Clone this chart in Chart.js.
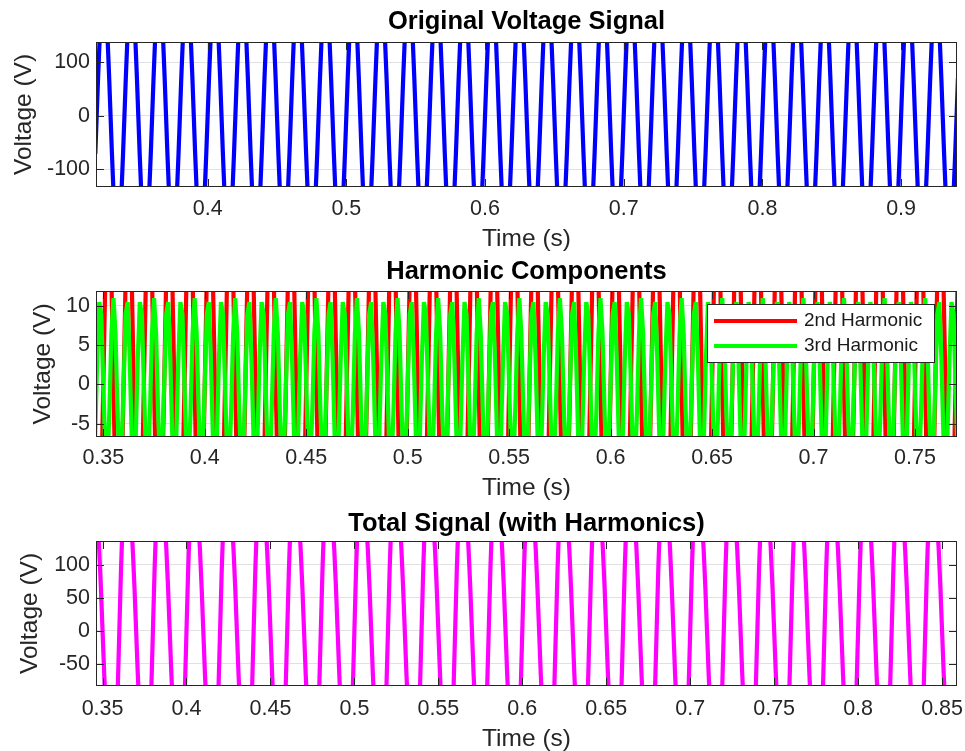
<!DOCTYPE html>
<html>
<head>
<meta charset="utf-8">
<title>Voltage Signal with Harmonics</title>
<script src="https://cdn.jsdelivr.net/npm/chart.js@4.4.0/dist/chart.umd.min.js"></script>
<style>
  html, body { margin: 0; padding: 0; background: #fff; }
  body { width: 965px; height: 751px; position: relative; overflow: hidden; }
  canvas { position: absolute; left: 0; }
</style>
</head>
<body>
<canvas id="chartOriginal" width="965" height="251" style="top:0px"></canvas>
<canvas id="chartHarmonics" width="965" height="250" style="top:250px"></canvas>
<canvas id="chartTotal" width="965" height="251" style="top:500px"></canvas>
<script>
// signals are sampled once per millisecond
var sampleStep = 0.001;

// Original voltage: one 50 Hz cycle of samples (V), starting at each rising zero crossing
var fundamentalCycle = [0, 71, 135, 186, 219, 230, 219, 186, 135, 71,
                        0, -71, -135, -186, -219, -230, -219, -186, -135, -71];
var fundamentalStarts = [0.30, 0.32, 0.34, 0.36, 0.38, 0.40, 0.42, 0.44, 0.46, 0.48,
                         0.50, 0.52, 0.54, 0.56, 0.58, 0.60, 0.62, 0.64, 0.66, 0.68,
                         0.70, 0.72, 0.74, 0.76, 0.78, 0.80, 0.82, 0.84, 0.86, 0.88,
                         0.90, 0.92, 0.94];

// 2nd harmonic (100 Hz): one cycle of samples
var harmonic2Cycle = [0, 13.5, 21.9, 21.9, 13.5, 0, -13.5, -21.9, -21.9, -13.5];
var harmonic2Starts = [0.34, 0.35, 0.36, 0.37, 0.38, 0.39, 0.40, 0.41, 0.42, 0.43,
                       0.44, 0.45, 0.46, 0.47, 0.48, 0.49, 0.50, 0.51, 0.52, 0.53,
                       0.54, 0.55, 0.56, 0.57, 0.58, 0.59, 0.60, 0.61, 0.62, 0.63,
                       0.64, 0.65, 0.66, 0.67, 0.68, 0.69, 0.70, 0.71, 0.72, 0.73,
                       0.74, 0.75, 0.76, 0.77];

// 3rd harmonic (150 Hz): three cycles = 20 samples before the pattern repeats
var harmonic3Cycle = [0, 8.9, 10.5, 3.4, -6.5, -11, -6.5, 3.4, 10.5, 8.9,
                      0, -8.9, -10.5, -3.4, 6.5, 11, 6.5, -3.4, -10.5, -8.9];
var harmonic3Starts = [0.34, 0.36, 0.38, 0.40, 0.42, 0.44, 0.46, 0.48, 0.50, 0.52,
                       0.54, 0.56, 0.58, 0.60, 0.62, 0.64, 0.66, 0.68, 0.70, 0.72,
                       0.74, 0.76];

// total signal (fundamental + harmonics): one 50 Hz cycle
var totalCycle = [0, 93.4, 167.4, 211.3, 226, 219, 199, 167.5, 123.6, 66.4,
                  0, -66.4, -123.6, -167.5, -199, -219, -226, -211.3, -167.4, -93.4];
var totalStarts = [0.34, 0.36, 0.38, 0.40, 0.42, 0.44, 0.46, 0.48, 0.50, 0.52,
                   0.54, 0.56, 0.58, 0.60, 0.62, 0.64, 0.66, 0.68, 0.70, 0.72,
                   0.74, 0.76, 0.78, 0.80, 0.82, 0.84, 0.86];

// axis ticks
var originalXTicks = [0.4, 0.5, 0.6, 0.7, 0.8, 0.9];
var originalYTicks = [-100, 0, 100];
var harmonicsXTicks = [0.35, 0.4, 0.45, 0.5, 0.55, 0.6, 0.65, 0.7, 0.75];
var harmonicsYTicks = [-5, 0, 5, 10];
var totalXTicks = [0.35, 0.4, 0.45, 0.5, 0.55, 0.6, 0.65, 0.7, 0.75, 0.8, 0.85];
var totalYTicks = [-50, 0, 50, 100];

function buildSeries(starts, cycle) {
    var pts = [];
    starts.forEach(function (s) {
        cycle.forEach(function (v, i) {
            pts.push({ x: s + i * sampleStep, y: v });
        });
    });
    return pts;
}

Chart.defaults.font.family = "'Liberation Sans', Arial, Helvetica, sans-serif";

// MATLAB-like box round the axes with ticks pointing inwards
var axesBox = {
    id: 'axesBox',
    afterDatasetsDraw: function (chart) {
        var ctx = chart.ctx, a = chart.chartArea;
        var xs = chart.scales.x, ys = chart.scales.y;
        ctx.save();
        ctx.strokeStyle = '#262626';
        ctx.lineWidth = 1;
        ctx.beginPath();
        xs.ticks.forEach(function (t) {
            var px = Math.round(xs.getPixelForValue(t.value)) + 0.5;
            ctx.moveTo(px, a.bottom); ctx.lineTo(px, a.bottom - 8);
            ctx.moveTo(px, a.top); ctx.lineTo(px, a.top + 8);
        });
        ys.ticks.forEach(function (t) {
            var py = Math.round(ys.getPixelForValue(t.value)) + 0.5;
            ctx.moveTo(a.left, py); ctx.lineTo(a.left + 8, py);
            ctx.moveTo(a.right, py); ctx.lineTo(a.right - 8, py);
        });
        ctx.stroke();
        ctx.strokeRect(a.left + 0.5, a.top + 0.5, a.right - a.left - 1, a.bottom - a.top - 1);
        ctx.restore();
    }
};

// boxed legend inside the plot, top right
var legendBox = {
    id: 'legendBox',
    afterDraw: function (chart) {
        var ctx = chart.ctx, a = chart.chartArea;
        var w = 228, h = 59;
        var x0 = a.right - 22 - w, y0 = a.top + 13;
        ctx.save();
        ctx.fillStyle = '#fff';
        ctx.fillRect(x0, y0, w, h);
        ctx.strokeStyle = '#262626';
        ctx.lineWidth = 1;
        ctx.strokeRect(x0 + 0.5, y0 + 0.5, w - 1, h - 1);
        ctx.font = "19px 'Liberation Sans', Arial, sans-serif";
        ctx.textBaseline = 'middle';
        chart.data.datasets.forEach(function (ds, i) {
            var ly = y0 + 17 + i * 25;
            ctx.strokeStyle = ds.borderColor;
            ctx.lineWidth = 4;
            ctx.beginPath();
            ctx.moveTo(x0 + 7, ly);
            ctx.lineTo(x0 + 90, ly);
            ctx.stroke();
            ctx.fillStyle = '#1a1a1a';
            ctx.fillText(ds.label, x0 + 97, ly);
        });
        ctx.restore();
    }
};

function makeChart(canvasId, p) {
    return new Chart(document.getElementById(canvasId), {
        type: 'line',
        data: { datasets: p.datasets },
        options: {
            responsive: false,
            animation: false,
            devicePixelRatio: 1,
            events: [],
            layout: { padding: { left: 0, right: 8, top: 0, bottom: 0 } },
            elements: {
                point: { radius: 0 },
                line: { tension: 0, borderWidth: 4.2 }
            },
            plugins: {
                legend: { display: false },
                tooltip: { enabled: false },
                title: {
                    display: true,
                    text: p.title,
                    fullSize: false,
                    color: '#000',
                    font: { size: 25.5, weight: 'bold' },
                    padding: { top: p.titleTop, bottom: p.titleBottom }
                }
            },
            scales: {
                x: {
                    type: 'linear',
                    min: p.xMin,
                    max: p.xMax,
                    afterBuildTicks: function (s) {
                        s.ticks = p.xTicks.map(function (v) { return { value: v }; });
                    },
                    afterFit: function (s) {
                        s.height = p.xAxisHeight;
                        s.paddingLeft = 0;
                        s.paddingRight = 0;
                    },
                    ticks: {
                        autoSkip: false,
                        maxRotation: 0,
                        padding: p.xTickPad,
                        color: '#262626',
                        font: { size: 21.5 },
                        callback: function (v) { return String(v); }
                    },
                    grid: { color: '#e1e1e1', drawTicks: false },
                    border: { display: false },
                    title: {
                        display: true,
                        text: 'Time (s)',
                        color: '#262626',
                        font: { size: 24.5, lineHeight: 1 },
                        padding: 0
                    }
                },
                y: {
                    min: p.yMin,
                    max: p.yMax,
                    afterBuildTicks: function (s) {
                        s.ticks = p.yTicks.map(function (v) { return { value: v }; });
                    },
                    afterFit: function (s) {
                        s.width = 96;
                        s.paddingTop = 0;
                        s.paddingBottom = 0;
                    },
                    ticks: {
                        padding: 6,
                        color: '#262626',
                        font: { size: 21.5 },
                        callback: function (v) { return String(v); }
                    },
                    grid: { color: '#e1e1e1', drawTicks: false },
                    border: { display: false },
                    title: {
                        display: true,
                        text: 'Voltage (V)',
                        color: '#262626',
                        font: { size: 24.5, lineHeight: 1 },
                        padding: { top: p.yTitlePad, bottom: 0 }
                    }
                }
            }
        },
        plugins: [axesBox].concat(p.extraPlugins || [])
    });
}

makeChart('chartOriginal', {
    title: 'Original Voltage Signal',
    titleTop: 6.7, titleBottom: 4.7,
    xAxisHeight: 64, xTickPad: 9, yTitlePad: 11.5,
    xMin: 0.3195, xMax: 0.9403, xTicks: originalXTicks,
    yMin: -133, yMax: 138, yTicks: originalYTicks,
    datasets: [{
        label: 'Original Voltage',
        data: buildSeries(fundamentalStarts, fundamentalCycle),
        borderColor: '#0000ff'
    }]
});

makeChart('chartHarmonics', {
    title: 'Harmonic Components',
    titleTop: 6.7, titleBottom: 3.7,
    xAxisHeight: 63, xTickPad: 8.6, yTitlePad: 30.5,
    xMin: 0.3464, xMax: 0.7707, xTicks: harmonicsXTicks,
    yMin: -6.7, yMax: 11.9, yTicks: harmonicsYTicks,
    datasets: [{
        label: '2nd Harmonic',
        data: buildSeries(harmonic2Starts, harmonic2Cycle),
        borderColor: '#ff0000',
        order: 1
    }, {
        label: '3rd Harmonic',
        data: buildSeries(harmonic3Starts, harmonic3Cycle),
        borderColor: '#00ff00',
        order: 0
    }],
    extraPlugins: [legendBox]
});

makeChart('chartTotal', {
    title: 'Total Signal (with Harmonics)',
    titleTop: 8.7, titleBottom: 1.7,
    xAxisHeight: 65, xTickPad: 10.6, yTitlePad: 17.5,
    xMin: 0.3461, xMax: 0.8589, xTicks: totalXTicks,
    yMin: -84, yMax: 136, yTicks: totalYTicks,
    datasets: [{
        label: 'Total Signal',
        data: buildSeries(totalStarts, totalCycle),
        borderColor: '#ff00ff'
    }]
});
</script>
</body>
</html>
